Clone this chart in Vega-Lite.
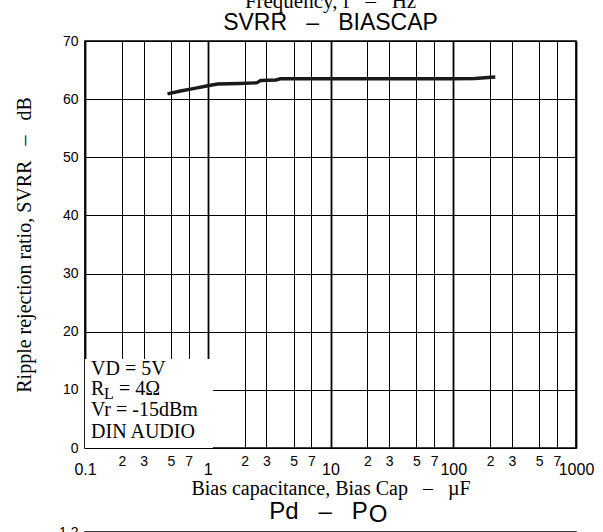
{
  "$schema": "https://vega.github.io/schema/vega-lite/v6.json",
  "padding": {"left": 13, "top": -10, "right": 0, "bottom": 0},
  "background": "white",
  "spacing": 0,
  "config": {
    "font": "Liberation Sans",
    "view": {"stroke": "black", "strokeWidth": 1.6},
    "axis": {
      "labelColor": "black", "titleColor": "black", "domain": false, "ticks": false,
      "labelFontSize": 14, "labelFont": "Liberation Sans",
      "titleFont": "Liberation Serif", "titleFontSize": 20, "titleFontWeight": "normal"
    }
  },
  "datasets": {
    "curve": [
      {"cap": 0.47, "svrr": 60.9}, {"cap": 0.6, "svrr": 61.4}, {"cap": 0.8, "svrr": 61.9},
      {"cap": 1.0, "svrr": 62.3}, {"cap": 1.2, "svrr": 62.6}, {"cap": 1.8, "svrr": 62.7},
      {"cap": 2.5, "svrr": 62.8}, {"cap": 2.7, "svrr": 63.2}, {"cap": 3.6, "svrr": 63.3},
      {"cap": 3.9, "svrr": 63.5}, {"cap": 10, "svrr": 63.5}, {"cap": 100, "svrr": 63.5},
      {"cap": 150, "svrr": 63.55}, {"cap": 220, "svrr": 63.8}
    ],
    "box": [{"cap": 0.1, "cap2": 1.1, "svrr": 0, "svrr2": 15.3}],
    "notes": [
      {"cap": 0.112, "svrr": 13.6, "label": "VD = 5V", "part": "main"},
      {"cap": 0.112, "svrr": 10.1, "label": "R", "part": "main"},
      {"cap": 0.112, "svrr": 10.1, "label": "L", "part": "sub"},
      {"cap": 0.112, "svrr": 10.1, "label": "= 4Ω", "part": "rest"},
      {"cap": 0.112, "svrr": 6.5, "label": "Vr = -15dBm", "part": "main"},
      {"cap": 0.112, "svrr": 2.75, "label": "DIN AUDIO", "part": "main"}
    ],
    "next": [{"po": 0.578, "pd": 1.2, "label": "O"}]
  },
  "vconcat": [
    {
      "width": 491,
      "height": 407,
      "title": {
        "text": "Frequency, f\u00a0\u00a0\u00a0–\u00a0\u00a0\u00a0Hz", "font": "Liberation Serif", "fontSize": 21, "fontWeight": "normal", "color": "black",
        "subtitle": "SVRR\u00a0\u00a0\u00a0–\u00a0\u00a0\u00a0BIASCAP", "subtitleFont": "Liberation Sans", "subtitleFontSize": 23, "subtitleColor": "black",
        "subtitlePadding": 0, "offset": -1, "anchor": "middle"
      },
      "layer": [
        {
          "data": {"name": "box"},
          "mark": {"type": "rect", "fill": "white", "stroke": null},
          "encoding": {
            "x": {
              "field": "cap", "type": "quantitative", "title": "Bias capacitance, Bias Cap\u00a0\u00a0\u00a0–\u00a0\u00a0\u00a0µF",
              "scale": {"type": "log", "domain": [0.1, 1000]},
              "axis": {
                "values": [0.1, 0.2, 0.3, 0.5, 0.7, 1, 2, 3, 5, 7, 10, 20, 30, 50, 70, 100, 200, 300, 500, 700, 1000],
                "grid": true, "gridColor": "black",
                "gridWidth": {"condition": {"test": "indexof([0.1,1,10,100,1000], datum.value) >= 0", "value": 1.8}, "value": 1},
                "format": "~g",
                "labelExpr": "indexof([0.1,1,10,100,1000], datum.value) >= 0 ? datum.label : toString(round(datum.value / pow(10, floor(log(datum.value)/LN10 + 0.0001))))",
                "labelBaseline": {"condition": {"test": "indexof([0.1,1,10,100,1000], datum.value) >= 0", "value": "top"}, "value": "middle"},
                "labelFontSize": {"condition": {"test": "indexof([0.1,1,10,100,1000], datum.value) >= 0", "value": 16}, "value": 14},
                "labelPadding": 13, "labelOverlap": false, "labelBound": false, "labelFlush": false,
                "titlePadding": 1
              }
            },
            "x2": {"field": "cap2"},
            "y": {
              "field": "svrr", "type": "quantitative", "title": "Ripple rejection ratio, SVRR\u00a0\u00a0\u00a0–\u00a0\u00a0\u00a0dB",
              "scale": {"domain": [0, 70]},
              "axis": {
                "values": [0, 10, 20, 30, 40, 50, 60, 70],
                "grid": true, "gridColor": "black", "gridWidth": 1,
                "labelPadding": 7, "titlePadding": 28
              }
            },
            "y2": {"field": "svrr2"}
          }
        },
        {
          "data": {"name": "notes"},
          "transform": [{"filter": "datum.part == 'main'"}],
          "mark": {"type": "text", "align": "left", "baseline": "middle", "font": "Liberation Serif", "fontSize": 20, "color": "black"},
          "encoding": {
            "x": {"field": "cap", "type": "quantitative", "title": "Bias capacitance, Bias Cap\u00a0\u00a0\u00a0–\u00a0\u00a0\u00a0µF"},
            "y": {"field": "svrr", "type": "quantitative", "title": "Ripple rejection ratio, SVRR\u00a0\u00a0\u00a0–\u00a0\u00a0\u00a0dB"},
            "text": {"field": "label"}
          }
        },
        {
          "data": {"name": "notes"},
          "transform": [{"filter": "datum.part == 'sub'"}],
          "mark": {"type": "text", "align": "left", "baseline": "middle", "font": "Liberation Serif", "fontSize": 16, "color": "black", "dx": 13, "dy": 5},
          "encoding": {
            "x": {"field": "cap", "type": "quantitative", "title": "Bias capacitance, Bias Cap\u00a0\u00a0\u00a0–\u00a0\u00a0\u00a0µF"},
            "y": {"field": "svrr", "type": "quantitative", "title": "Ripple rejection ratio, SVRR\u00a0\u00a0\u00a0–\u00a0\u00a0\u00a0dB"},
            "text": {"field": "label"}
          }
        },
        {
          "data": {"name": "notes"},
          "transform": [{"filter": "datum.part == 'rest'"}],
          "mark": {"type": "text", "align": "left", "baseline": "middle", "font": "Liberation Serif", "fontSize": 20, "color": "black", "dx": 28},
          "encoding": {
            "x": {"field": "cap", "type": "quantitative", "title": "Bias capacitance, Bias Cap\u00a0\u00a0\u00a0–\u00a0\u00a0\u00a0µF"},
            "y": {"field": "svrr", "type": "quantitative", "title": "Ripple rejection ratio, SVRR\u00a0\u00a0\u00a0–\u00a0\u00a0\u00a0dB"},
            "text": {"field": "label"}
          }
        },
        {
          "data": {"name": "curve"},
          "mark": {"type": "line", "color": "#1a1a1a", "strokeWidth": 3.4, "interpolate": "linear"},
          "encoding": {
            "x": {"field": "cap", "type": "quantitative", "title": "Bias capacitance, Bias Cap\u00a0\u00a0\u00a0–\u00a0\u00a0\u00a0µF"},
            "y": {"field": "svrr", "type": "quantitative", "title": "Ripple rejection ratio, SVRR\u00a0\u00a0\u00a0–\u00a0\u00a0\u00a0dB"}
          }
        }
      ]
    },
    {
      "width": 491,
      "height": 120,
      "title": {"text": "Pd\u00a0\u00a0\u00a0–\u00a0\u00a0\u00a0P", "font": "Liberation Sans", "fontSize": 24, "fontWeight": "normal", "color": "black", "anchor": "middle", "dx": -12, "offset": -21},
      "data": {"name": "next"},
      "mark": {"type": "text", "font": "Liberation Sans", "fontSize": 24, "color": "black", "align": "left", "baseline": "alphabetic", "dy": -10},
      "encoding": {
        "x": {"field": "po", "type": "quantitative", "scale": {"domain": [0, 1]}, "axis": {"title": null, "labels": false, "grid": false}},
        "y": {"field": "pd", "type": "quantitative", "scale": {"domain": [0, 1.2]}, "axis": {"title": null, "values": [1.2], "format": ".1f", "grid": false, "labelPadding": 7}},
        "text": {"field": "label"}
      }
    }
  ]
}
